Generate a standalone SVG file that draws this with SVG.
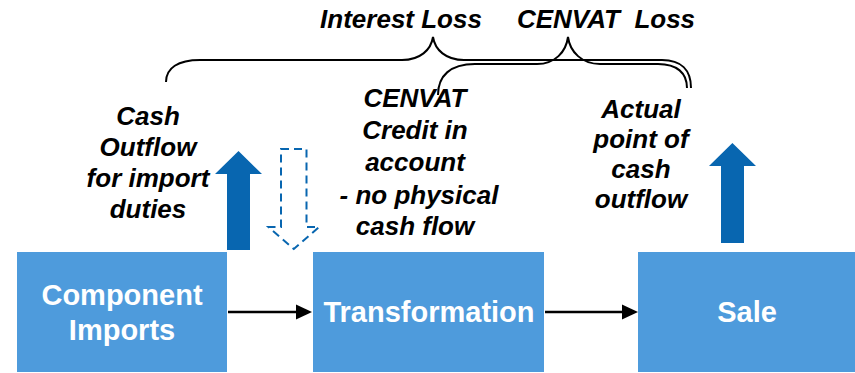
<svg xmlns="http://www.w3.org/2000/svg" width="855" height="373" viewBox="0 0 855 373">
  <style>
    .box { fill: #4e9bdc; }
    .boxtxt { font-family: "Liberation Sans", Arial, sans-serif; font-weight: bold; font-size: 29px; fill: #ffffff; text-anchor: middle; }
    .lbl { font-family: "Liberation Sans", Arial, sans-serif; font-weight: bold; font-style: italic; font-size: 26px; fill: #000000; text-anchor: middle; }
    .brace { fill: none; stroke: #000000; stroke-width: 2; }
    .flow { fill: #0866b0; }
    .ghost { fill: #ffffff; stroke: #0866b0; stroke-width: 2; stroke-dasharray: 8 5; }
    .link { stroke: #000000; stroke-width: 2.5; fill: none; }
    .head { fill: #000000; }
  </style>

  <!-- headings above the braces -->
  <text class="lbl" x="401" y="28">Interest Loss</text>
  <text class="lbl" x="606" y="28" xml:space="preserve">CENVAT  Loss</text>

  <!-- braces spanning the two loss periods -->
  <g id="braces">
    <path class="brace" d="M166,82 C166,68 178,60 200,60 L402,60 C420,60 431,50 433,37 C435,50 446,60 464,60 L662,60 C681,60 691,70 691,88"/>
    <path class="brace" d="M438,95 C438,76 450,64 475,64 L537,64 C555,64 566,52 568,37 C570,52 582,64 600,64 L658,64 C677,64 687,73 687,88"/>
  </g>

  <!-- cash-flow markers -->
  <g id="cash-out-import">
    <polygon class="flow" points="227,250 227,174 215,174 238.5,151 262,174 250,174 250,250"/>
  </g>
  <g id="no-cash-flow">
    <polygon class="ghost" points="281,149 306.5,149 306.5,227 319,227 293.8,249 268.5,227 281,227"/>
  </g>
  <g id="cash-out-sale">
    <polygon class="flow" points="721,243 721,166 709,166 732.4,143 756,166 744,166 744,243"/>
  </g>

  <!-- explanatory labels -->
  <g id="label-import">
    <text class="lbl" x="148" y="125">Cash</text>
    <text class="lbl" x="148" y="156">Outflow</text>
    <text class="lbl" x="148" y="187">for import</text>
    <text class="lbl" x="148" y="218">duties</text>
  </g>
  <g id="label-credit">
    <text class="lbl" x="415" y="107">CENVAT</text>
    <text class="lbl" x="415" y="139">Credit in</text>
    <text class="lbl" x="415" y="171">account</text>
    <text class="lbl" x="419" y="204">- no physical</text>
    <text class="lbl" x="415" y="235">cash flow</text>
  </g>
  <g id="label-sale">
    <text class="lbl" x="641" y="118">Actual</text>
    <text class="lbl" x="641" y="148">point of</text>
    <text class="lbl" x="641" y="178">cash</text>
    <text class="lbl" x="641" y="208">outflow</text>
  </g>

  <!-- process steps -->
  <g id="component-imports">
    <rect class="box" x="17" y="252" width="210" height="120"/>
    <text class="boxtxt" x="122" y="305">Component</text>
    <text class="boxtxt" x="122" y="340">Imports</text>
  </g>
  <g id="transformation">
    <rect class="box" x="313" y="252" width="231" height="120"/>
    <text class="boxtxt" x="429" y="322">Transformation</text>
  </g>
  <g id="sale">
    <rect class="box" x="638" y="252" width="217" height="120"/>
    <text class="boxtxt" x="747" y="322">Sale</text>
  </g>

  <!-- connectors between steps -->
  <g id="connectors">
    <line class="link" x1="228" y1="312" x2="297" y2="312"/>
    <polygon class="head" points="296,304.5 312,312 296,319.5"/>
    <line class="link" x1="545" y1="312" x2="623" y2="312"/>
    <polygon class="head" points="622,304.5 638,312 622,319.5"/>
  </g>
</svg>
